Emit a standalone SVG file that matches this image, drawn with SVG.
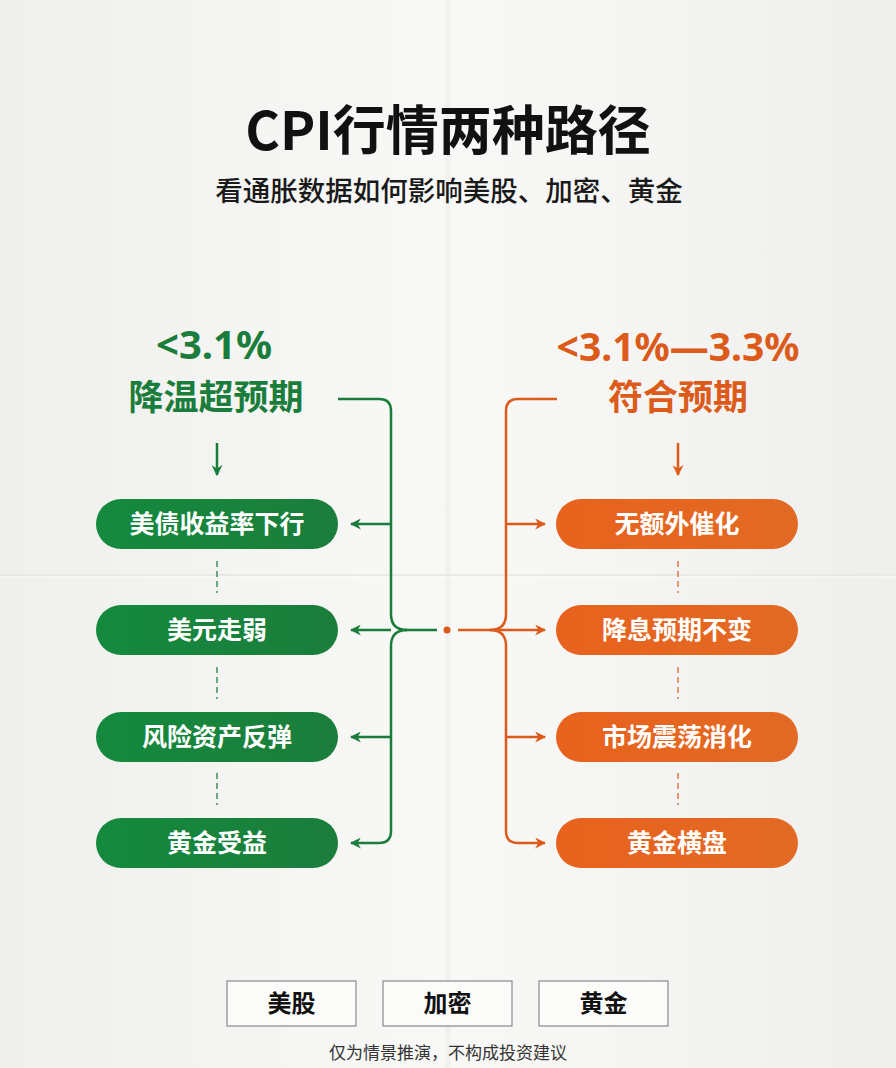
<svg xmlns="http://www.w3.org/2000/svg" width="896" height="1068" viewBox="0 0 896 1068">
<defs>
<linearGradient id="paper" x1="0" y1="0" x2="1" y2="0">
<stop offset="0" stop-color="#efefed"/><stop offset="0.3" stop-color="#f5f5f3"/><stop offset="0.495" stop-color="#f8f8f6"/><stop offset="0.5" stop-color="#eeeeec"/><stop offset="0.505" stop-color="#f8f8f6"/><stop offset="0.7" stop-color="#f5f5f3"/><stop offset="1" stop-color="#eeeeec"/>
</linearGradient>
<linearGradient id="gg" x1="0" y1="0" x2="1" y2="0"><stop offset="0" stop-color="#148a3e"/><stop offset="1" stop-color="#1b7d3b"/></linearGradient>
<linearGradient id="og" x1="0" y1="0" x2="1" y2="0"><stop offset="0" stop-color="#e8621d"/><stop offset="1" stop-color="#e26a24"/></linearGradient>
<marker id="ag" viewBox="0 0 10 10" refX="9" refY="5" markerWidth="11" markerHeight="11" markerUnits="userSpaceOnUse" orient="auto"><path d="M0,0 L10,5 L0,10 L3,5 z" fill="#1b7d3b"/></marker>
<marker id="ao" viewBox="0 0 10 10" refX="9" refY="5" markerWidth="11" markerHeight="11" markerUnits="userSpaceOnUse" orient="auto"><path d="M0,0 L10,5 L0,10 L3,5 z" fill="#dc5b1a"/></marker>
<style>
.t{font-family:"Noto Sans","Noto Sans CJK SC",sans-serif;}
.cjk{font-family:"Noto Sans CJK SC","Noto Sans",sans-serif;}
.pt{font-family:"Noto Sans CJK SC",sans-serif;font-size:25px;font-weight:700;fill:#ffffff;text-anchor:middle;}
.gl{fill:none;stroke:#1b7d3b;stroke-width:2.5;}
.ol{fill:none;stroke:#dc5b1a;stroke-width:2.5;}
.gd{stroke:#3f8f58;stroke-width:1.5;stroke-dasharray:6 4;}
.od{stroke:#e07a45;stroke-width:1.5;stroke-dasharray:6 4;}
.btn{fill:#fbfbfa;stroke:#8a8a8a;stroke-width:1.2;}
.bt{font-family:"Noto Sans CJK SC",sans-serif;font-size:24px;font-weight:700;fill:#111;text-anchor:middle;}
</style>
</defs>
<rect width="896" height="1068" fill="url(#paper)"/>
<line x1="0" y1="575" x2="896" y2="575" stroke="#e6e6e4" stroke-width="1.5"/>
<line x1="0" y1="577" x2="896" y2="577" stroke="#fbfbfa" stroke-width="1"/>

<g id="title">
<text x="448" y="150" class="cjk" font-size="53" font-weight="700" fill="#111" text-anchor="middle">CPI行情两种路径</text>
<text x="449" y="201" class="cjk" font-size="27.5" font-weight="500" fill="#1a1a1a" text-anchor="middle">看通胀数据如何影响美股、加密、黄金</text>
</g>

<g id="green-header">
<text x="214" y="359" class="t" font-size="40" font-weight="700" fill="#1b7d3b" text-anchor="middle">&lt;3.1%</text>
<text x="216" y="410" class="cjk" font-size="35" font-weight="700" fill="#1b7d3b" text-anchor="middle">降温超预期</text>
</g>
<g id="orange-header">
<text x="678" y="361" class="t" font-size="39" font-weight="700" fill="#dc5b1a" text-anchor="middle">&lt;3.1%—3.3%</text>
<text x="678" y="410" class="cjk" font-size="35" font-weight="700" fill="#dc5b1a" text-anchor="middle">符合预期</text>
</g>

<g id="connectors">
<line x1="217" y1="443" x2="217" y2="475" class="gl" stroke-width="2" marker-end="url(#ag)"/>
<line x1="678" y1="443" x2="678" y2="475" class="ol" stroke-width="2" marker-end="url(#ao)"/>
<path class="gl" d="M338 399 H379 Q391 399 391 411 V614 Q391 630 407 630"/>
<path class="gl" d="M407 630 Q391 630 391 646 V831 Q391 843 379 843 H351" marker-end="url(#ag)"/>
<path class="gl" d="M405 630 H437"/>
<path class="gl" d="M391 630 H351" marker-end="url(#ag)"/>
<path class="gl" d="M391 524 H351" marker-end="url(#ag)"/>
<path class="gl" d="M391 737 H351" marker-end="url(#ag)"/>
<circle cx="447" cy="630" r="3.5" fill="#dc5b1a"/>
<path class="ol" d="M557 399 H518 Q506 399 506 411 V614 Q506 630 490 630"/>
<path class="ol" d="M490 630 Q506 630 506 646 V831 Q506 843 518 843 H545" marker-end="url(#ao)"/>
<path class="ol" d="M458 630 H545" marker-end="url(#ao)"/>
<path class="ol" d="M506 524 H545" marker-end="url(#ao)"/>
<path class="ol" d="M506 737 H545" marker-end="url(#ao)"/>
<line class="gd" x1="217" y1="561" x2="217" y2="593"/>
<line class="gd" x1="217" y1="667" x2="217" y2="699"/>
<line class="gd" x1="217" y1="773" x2="217" y2="805"/>
<line class="od" x1="678" y1="561" x2="678" y2="593"/>
<line class="od" x1="678" y1="667" x2="678" y2="699"/>
<line class="od" x1="678" y1="773" x2="678" y2="805"/>
</g>

<g id="g1"><rect x="96" y="499" width="242" height="50" rx="25" fill="url(#gg)"/><text x="217" y="533" class="pt">美债收益率下行</text></g>
<g id="g2"><rect x="96" y="605" width="242" height="50" rx="25" fill="url(#gg)"/><text x="217" y="639" class="pt">美元走弱</text></g>
<g id="g3"><rect x="96" y="712" width="242" height="50" rx="25" fill="url(#gg)"/><text x="217" y="746" class="pt">风险资产反弹</text></g>
<g id="g4"><rect x="96" y="818" width="242" height="50" rx="25" fill="url(#gg)"/><text x="217" y="852" class="pt">黄金受益</text></g>

<g id="o1"><rect x="556" y="499" width="242" height="50" rx="25" fill="url(#og)"/><text x="677" y="533" class="pt">无额外催化</text></g>
<g id="o2"><rect x="556" y="605" width="242" height="50" rx="25" fill="url(#og)"/><text x="677" y="639" class="pt">降息预期不变</text></g>
<g id="o3"><rect x="556" y="712" width="242" height="50" rx="25" fill="url(#og)"/><text x="677" y="746" class="pt">市场震荡消化</text></g>
<g id="o4"><rect x="556" y="818" width="242" height="50" rx="25" fill="url(#og)"/><text x="677" y="852" class="pt">黄金横盘</text></g>

<g id="b1"><rect class="btn" x="227" y="981" width="129" height="45"/><text x="291.5" y="1012" class="bt">美股</text></g>
<g id="b2"><rect class="btn" x="383" y="981" width="129" height="45"/><text x="447.5" y="1012" class="bt">加密</text></g>
<g id="b3"><rect class="btn" x="539" y="981" width="129" height="45"/><text x="603.5" y="1012" class="bt">黄金</text></g>

<g id="footer"><text x="448" y="1059" class="cjk" font-size="17" fill="#333" text-anchor="middle">仅为情景推演，不构成投资建议</text></g>
</svg>
